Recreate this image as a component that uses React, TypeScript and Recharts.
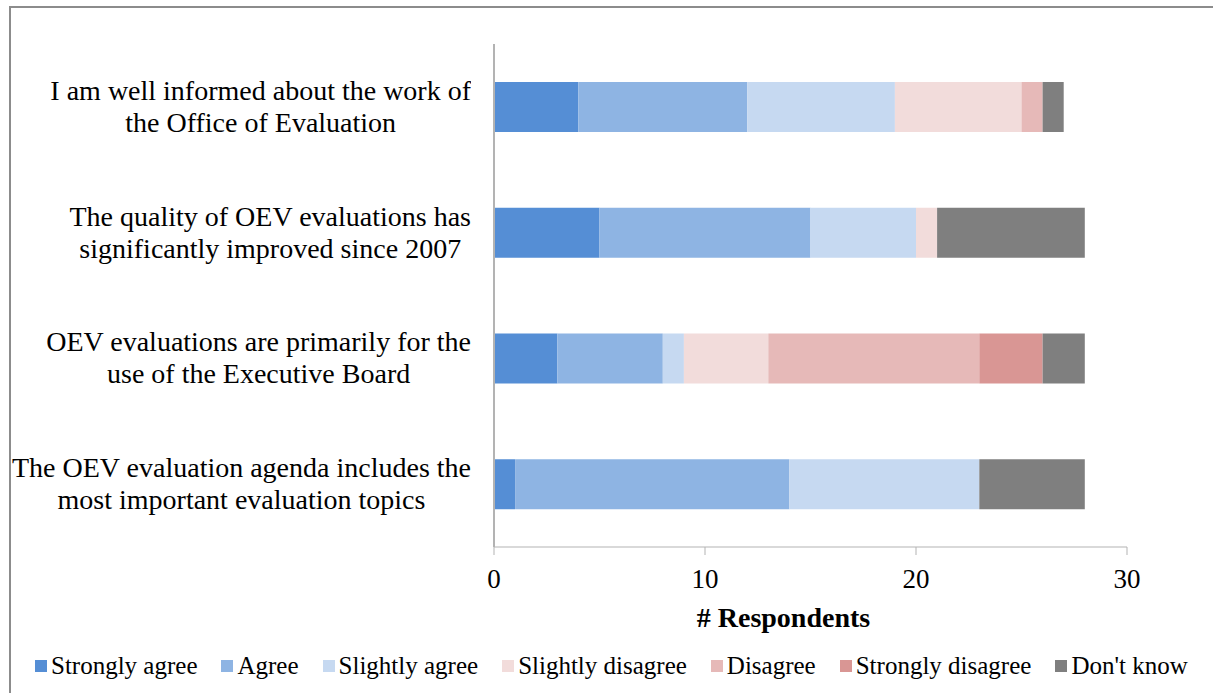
import { Bar, BarChart, Legend, XAxis, YAxis } from 'recharts';

const statements = [
  'I am well informed about the work of\nthe Office of Evaluation',
  'The quality of OEV evaluations has\nsignificantly improved since 2007',
  'OEV evaluations are primarily for the\nuse of the Executive Board',
  'The OEV evaluation agenda includes the\nmost important evaluation topics'
];

const seriesNames = [
  'Strongly agree',
  'Agree',
  'Slightly agree',
  'Slightly disagree',
  'Disagree',
  'Strongly disagree',
  "Don't know"
];

const stronglyAgree = [4, 5, 3, 1];
const agree = [8, 10, 5, 13];
const slightlyAgree = [7, 5, 1, 9];
const slightlyDisagree = [6, 1, 4, 0];
const disagree = [1, 0, 10, 0];
const stronglyDisagree = [0, 0, 3, 0];
const dontKnow = [1, 7, 2, 5];

const xTicks = [0, 10, 20, 30];

const seriesColors = ['#558ed5', '#8eb4e3', '#c6d9f1', '#f2dcdb', '#e6b9b8', '#d99694', '#7f7f7f'];

const seriesValues = [stronglyAgree, agree, slightlyAgree, slightlyDisagree, disagree, stronglyDisagree, dontKnow];

const chartData = statements.map((statement, i) => {
  const row: Record<string, string | number> = { statement };
  seriesNames.forEach((name, s) => {
    row[name] = seriesValues[s][i];
  });
  return row;
});

const fontFamily = '"Liberation Serif", serif';

function StatementTick(props: any) {
  const { x, y, payload } = props;
  return (
    <foreignObject x={0} y={y - 40} width={x - 17} height={80}>
      <div
        style={{
          display: 'flex',
          justifyContent: 'flex-end',
          alignItems: 'center',
          height: '100%',
          fontFamily,
          fontSize: 28,
          color: '#000'
        }}
      >
        <div style={{ textAlign: 'center', whiteSpace: 'pre', lineHeight: '32px' }}>{payload.value}</div>
      </div>
    </foreignObject>
  );
}

function LegendRow() {
  return (
    <div
      style={{
        display: 'flex',
        alignItems: 'center',
        height: 30,
        paddingLeft: 35,
        fontFamily,
        fontSize: 25,
        color: '#000',
        whiteSpace: 'nowrap'
      }}
    >
      {seriesNames.map((name, i) => (
        <div key={name} style={{ display: 'flex', alignItems: 'center', marginRight: 24 }}>
          <span style={{ width: 12, height: 12, background: seriesColors[i], marginRight: 4 }} />
          <span>{name}</span>
        </div>
      ))}
    </div>
  );
}

function RespondentsLabel(props: any) {
  const { viewBox } = props;
  return (
    <text
      x={viewBox.x + viewBox.width / 2 - 27}
      y={627}
      textAnchor="middle"
      fill="#000"
      fontSize={28}
      fontWeight="bold"
      fontFamily={fontFamily}
    >
      # Respondents
    </text>
  );
}

export default function App() {
  return (
    <div style={{ position: 'absolute', left: 0, top: 0, width: 1213, height: 693, overflow: 'hidden', background: '#fff' }}>
      <div
        style={{
          position: 'absolute',
          left: 9,
          top: 6,
          width: 1230,
          height: 720,
          border: '2px solid #8c8c8c'
        }}
      />
      <div style={{ position: 'absolute', left: 0, top: 0 }}>
        <BarChart
          width={1213}
          height={693}
          data={chartData}
          layout="vertical"
          margin={{ top: 44, right: 86, left: 0, bottom: 12 }}
          barSize={50}
        >
          <XAxis
            type="number"
            domain={[0, 30]}
            ticks={xTicks}
            height={104}
            axisLine={{ stroke: '#b3b3b3' }}
            tickLine={{ stroke: '#b3b3b3' }}
            tickSize={8}
            tickMargin={14}
            tick={{ fill: '#000', fontSize: 27, fontFamily }}
            label={<RespondentsLabel />}
          />
          <YAxis
            type="category"
            dataKey="statement"
            width={494}
            axisLine={{ stroke: '#b3b3b3', strokeWidth: 2 }}
            tickLine={false}
            tickMargin={0}
            tick={<StatementTick />}
          />
          {seriesNames.map((name, i) => (
            <Bar key={name} dataKey={name} stackId="a" fill={seriesColors[i]} isAnimationActive={false} />
          ))}
          <Legend
            verticalAlign="bottom"
            wrapperStyle={{ left: 0, width: 1213 }}
            content={<LegendRow />}
          />
        </BarChart>
      </div>
    </div>
  );
}
